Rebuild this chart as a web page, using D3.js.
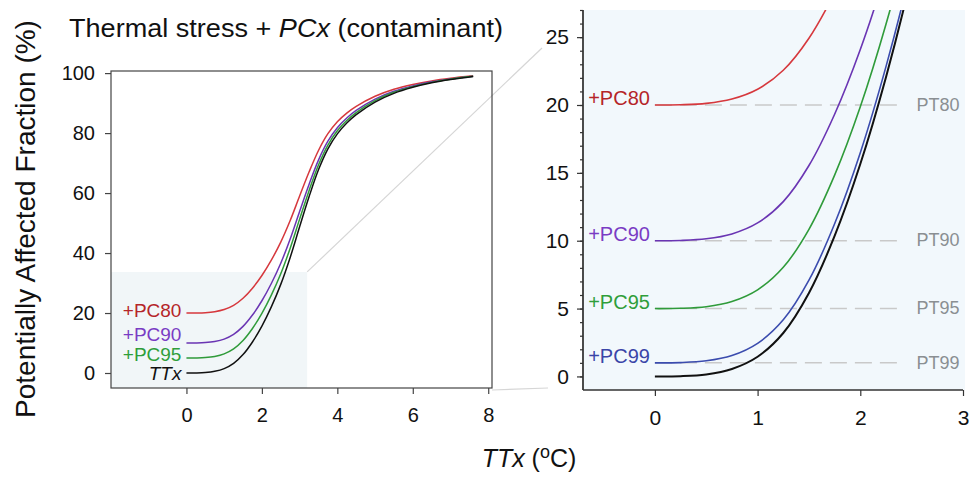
<!DOCTYPE html>
<html><head><meta charset="utf-8">
<script src="https://cdn.jsdelivr.net/npm/d3@7"></script>
<style>
body{margin:0;background:#fff}
svg{display:block}
text{font-family:"Liberation Sans",Arial,Helvetica,sans-serif}
</style>
</head><body>
<svg id="c" width="975" height="484"></svg>
<script>
// ---- data ----
const ttx    = [0,0.25,0.5,0.75,1,1.25,1.5,1.75,2,2.25,2.5,2.75,3,3.25,3.5,3.75,4,4.25,4.5,5,5.5,6,6.5,7,7.6];
const pafTT  = [0,0.02,0.15,0.55,1.45,3.2,6.15,10.35,15.65,22.05,29.55,38.55,48.75,58.75,67.75,74.75,79.75,83.35,86.15,90.35,93.25,95.25,96.75,97.85,98.85];
const pafPC99= [1.0,1.02,1.15,1.54,2.44,4.17,7.09,11.25,16.49,22.83,30.25,39.16,49.26,59.16,68.07,75.0,79.95,83.52,86.29,90.45,93.32,95.3,96.78,97.87,98.86];
const pafPC95= [5.0,5.02,5.14,5.52,6.38,8.04,10.84,14.83,19.87,25.95,33.07,41.62,51.31,60.81,69.36,76.01,80.76,84.18,86.84,90.83,93.59,95.49,96.91,97.96,98.91];
const pafPC90= [10.0,10.02,10.14,10.5,11.31,12.88,15.54,19.32,24.09,29.85,36.6,44.7,53.88,62.88,70.98,77.28,81.78,85.02,87.54,91.32,93.93,95.73,97.08,98.07,98.97];
const pafPC80= [20.0,20.02,20.12,20.44,21.16,22.56,24.92,28.28,32.52,37.64,43.64,50.84,59.0,67.0,74.2,79.8,83.8,86.68,88.92,92.28,94.6,96.2,97.4,98.28,99.08];

const leftXTicks  = [0,2,4,6,8];
const leftYTicks  = [0,20,40,60,80,100];
const rightXTicks = [0,1,2,3];
const rightYTicks = [0,5,10,15,20,25];
const rightYMinor = d3.range(0,28,1);

const ptLevels = [20,10,5,1];
const ptLabels = ["PT80","PT90","PT95","PT99"];
const ptEnd = 2.43;

const yTitle = "Potentially Affected Fraction (%)";

const colors = {PC80:"#d6383d", PC90:"#6a35b3", PC95:"#2f9b3a", PC99:"#3b4cae", TT:"#111111"};
const labelColors = {PC80:"#b52528", PC90:"#7a3cc4", PC95:"#2f9e3a", PC99:"#3a45a8"};

const leftSeries = [
  {key:"PC80", vals:pafPC80, label:"+PC80", ly:312},
  {key:"PC90", vals:pafPC90, label:"+PC90", ly:336},
  {key:"PC95", vals:pafPC95, label:"+PC95", ly:356},
  {key:"TT",   vals:pafTT,   label:"TTx",   ly:375}
];
const rightSeries = [
  {key:"PC80", vals:pafPC80, label:"+PC80"},
  {key:"PC90", vals:pafPC90, label:"+PC90"},
  {key:"PC95", vals:pafPC95, label:"+PC95"},
  {key:"PC99", vals:pafPC99, label:"+PC99"},
  {key:"TT",   vals:pafTT,   label:null}
];

// ---- layout ----
const svg = d3.select("#c");
const L = {x0:111, x1:492, y0:71, y1:388};
const R = {x0:583, x1:963, y0:10, y1:390};

const xL = d3.scaleLinear().domain([-2,8.1]).range([L.x0,L.x1]);
const yL = d3.scaleLinear().domain([-5,100.7]).range([L.y1,L.y0]);
const xR = d3.scaleLinear().domain([-0.7,3]).range([R.x0,R.x1]);
const yR = d3.scaleLinear().domain([-1,27]).range([R.y1,R.y0]);
const curve = d3.curveCatmullRom.alpha(0.5);

// ---- left panel ----
svg.append("rect").attr("x",xL(-2)).attr("y",yL(33.7)).attr("width",xL(3.2)-xL(-2)).attr("height",yL(-5)-yL(33.7))
  .attr("fill","#f1f6f8");

svg.append("line").attr("x1",xL(3.2)).attr("y1",yL(33.7)).attr("x2",542).attr("y2",48)
  .attr("stroke","#d6d6d6").attr("stroke-width",1.2);
svg.append("line").attr("x1",L.x1).attr("y1",390).attr("x2",548).attr("y2",388)
  .attr("stroke","#d6d6d6").attr("stroke-width",1.2);

const lineL = d3.line().x((d,i)=>xL(ttx[i])).y(d=>yL(d)).curve(curve);
leftSeries.forEach(s=>{
  svg.append("path").attr("d",lineL(s.vals)).attr("fill","none")
    .attr("stroke",colors[s.key]).attr("stroke-width",1.5);
});
leftSeries.forEach(s=>{
  const t = svg.append("text").attr("x",xL(0)-5).attr("y",s.ly)
    .attr("text-anchor","end").attr("dominant-baseline","middle").attr("font-size",19)
    .attr("fill", s.key==="TT" ? "#111" : labelColors[s.key]).text(s.label);
  if (s.key==="TT") t.attr("font-style","italic");
});

svg.append("rect").attr("x",L.x0).attr("y",L.y0).attr("width",L.x1-L.x0).attr("height",L.y1-L.y0)
  .attr("fill","none").attr("stroke","#444").attr("stroke-width",1.2);

const axLX = svg.append("g").attr("transform",`translate(0,${L.y1})`)
  .call(d3.axisBottom(xL).tickValues(leftXTicks).tickSize(6).tickPadding(14).tickFormat(d3.format("d")));
const axLY = svg.append("g").attr("transform",`translate(${L.x0},0)`)
  .call(d3.axisLeft(yL).tickValues(leftYTicks).tickSize(6).tickPadding(10).tickFormat(d3.format("d")));
[axLX,axLY].forEach(a=>{
  a.select(".domain").remove();
  a.selectAll("line").attr("stroke","#444").attr("stroke-width",1.2);
  a.selectAll("text").attr("font-size",20).attr("fill","#111")
   .attr("font-family","Liberation Sans,Arial,sans-serif");
});

// ---- right panel ----
svg.append("rect").attr("x",R.x0).attr("y",R.y0).attr("width",R.x1-R.x0+2).attr("height",R.y1-R.y0)
  .attr("fill","#f2f8fc");
svg.append("defs").append("clipPath").attr("id","clipR").append("rect")
  .attr("x",R.x0).attr("y",R.y0).attr("width",R.x1-R.x0).attr("height",R.y1-R.y0);

const gR = svg.append("g").attr("clip-path","url(#clipR)");
ptLevels.forEach((v,i)=>{
  gR.append("line").attr("x1",xR(0)).attr("x2",xR(ptEnd)).attr("y1",yR(v)).attr("y2",yR(v))
    .attr("stroke","#c9c9c9").attr("stroke-width",1.5).attr("stroke-dasharray","17,8");
  svg.append("text").attr("x",xR(ptEnd)+12).attr("y",yR(v)+1).attr("dominant-baseline","middle")
    .attr("font-size",18).attr("fill","#8a8f92").text(ptLabels[i]);
});
const lineR = d3.line().x((d,i)=>xR(ttx[i])).y(d=>yR(d)).curve(curve);
rightSeries.forEach(s=>{
  gR.append("path").attr("d",lineR(s.vals)).attr("fill","none")
    .attr("stroke",colors[s.key]).attr("stroke-width",s.key==="TT"?2:1.6);
  if (s.label) {
    svg.append("text").attr("x",xR(0)-5).attr("y",yR(s.vals[0])-5)
      .attr("text-anchor","end").attr("dominant-baseline","middle").attr("font-size",20)
      .attr("fill",labelColors[s.key]).text(s.label);
  }
});

const axRX = svg.append("g").attr("transform",`translate(0,${R.y1})`)
  .call(d3.axisBottom(xR).tickValues(rightXTicks).tickSize(6).tickPadding(14).tickFormat(d3.format("d")));
const axRYm = svg.append("g").attr("transform",`translate(${R.x0},0)`)
  .call(d3.axisLeft(yR).tickValues(rightYMinor).tickSize(3).tickFormat(""));
const axRY = svg.append("g").attr("transform",`translate(${R.x0},0)`)
  .call(d3.axisLeft(yR).tickValues(rightYTicks).tickSize(6).tickPadding(8).tickFormat(d3.format("d")));
[axRX,axRY,axRYm].forEach(a=>{
  a.select(".domain").attr("stroke","#333").attr("stroke-width",1.3);
  a.selectAll("line").attr("stroke","#333").attr("stroke-width",1.2);
  a.selectAll("text").attr("font-size",21).attr("fill","#111")
   .attr("font-family","Liberation Sans,Arial,sans-serif");
});
axRX.select(".domain").attr("d",`M${R.x0},0H${R.x1}`);
axRY.select(".domain").attr("d",`M0,${R.y1}V${R.y0}`);
axRYm.select(".domain").attr("d",`M0,${R.y1}V${R.y0}`);

// ---- titles ----
const tt = svg.append("text").attr("x",69).attr("y",37).attr("font-size",26).attr("fill","#111")
  .attr("textLength",434).attr("lengthAdjust","spacingAndGlyphs");
tt.append("tspan").text("Thermal stress + ");
tt.append("tspan").attr("font-style","italic").text("PCx");
tt.append("tspan").text(" (contaminant)");

svg.append("text").attr("transform","translate(35,219) rotate(-90)").attr("text-anchor","middle")
  .attr("font-size",28).attr("fill","#111").text(yTitle);

const xt = svg.append("text").attr("x",529).attr("y",467).attr("text-anchor","middle")
  .attr("font-size",25).attr("fill","#111");
xt.append("tspan").attr("font-style","italic").text("TTx");
xt.append("tspan").text(" (");
xt.append("tspan").attr("font-size",18).attr("dy",-9).text("o");
xt.append("tspan").attr("dy",9).text("C)");
</script>
</body></html>
